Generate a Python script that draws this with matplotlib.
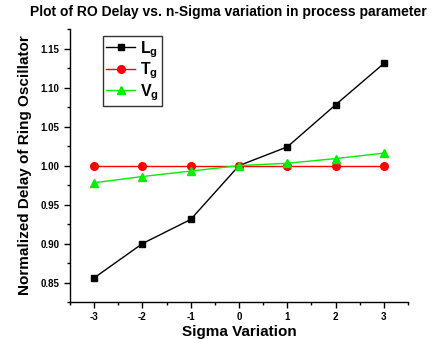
import matplotlib
matplotlib.use("Agg")
import matplotlib.pyplot as plt
from matplotlib.ticker import MultipleLocator

plt.rcParams['font.family'] = ['Liberation Sans', 'DejaVu Sans']
plt.rcParams['mathtext.fontset'] = 'custom'
plt.rcParams['mathtext.rm'] = 'Liberation Sans'
plt.rcParams['mathtext.bf'] = 'Liberation Sans:bold'
plt.rcParams['axes.unicode_minus'] = False

# data
sigma = [-3, -2, -1, 0, 1, 2, 3]
lg = [0.856, 0.900, 0.931, 1.000, 1.024, 1.078, 1.131]
tg = [1.000, 1.000, 1.000, 1.000, 1.000, 1.000, 1.000]
vg = [0.978, 0.986, 0.993, 1.000, 1.003, 1.009, 1.016]

fig = plt.figure(figsize=(4.35, 3.39), dpi=100)
ax = fig.add_axes([0.161, 0.109, 0.777, 0.805])

ax.plot(sigma, lg, color='black', lw=1, marker='s', ms=5, label=r'$\mathbf{L_g}$')
ax.plot(sigma, tg, color='red', lw=1, marker='o', ms=5.5, label=r'$\mathbf{T_g}$')
ax.plot(sigma, vg, color='#00ee00', lw=1, marker='^', ms=6, label=r'$\mathbf{V_g}$')

ax.set_xlim(-3.5, 3.5)
ax.set_ylim(0.825, 1.175)
ax.xaxis.set_major_locator(MultipleLocator(1))
ax.xaxis.set_minor_locator(MultipleLocator(0.5))
ax.yaxis.set_major_locator(MultipleLocator(0.05))
ax.yaxis.set_minor_locator(MultipleLocator(0.025))
ax.yaxis.set_major_formatter(matplotlib.ticker.FormatStrFormatter('%.2f'))

for s in ['top', 'right']:
    ax.spines[s].set_visible(False)
for s in ['left', 'bottom']:
    ax.spines[s].set_linewidth(1.0)

ax.tick_params(which='major', direction='out', length=4, width=1, labelsize=7)
ax.tick_params(which='minor', direction='out', length=2.5, width=1)
for lab in ax.get_xticklabels() + ax.get_yticklabels():
    lab.set_fontweight('bold')

ax.set_xlabel('Sigma Variation', fontsize=11, fontweight='bold', labelpad=2)
ax.set_ylabel('Normalized Delay of Ring Oscillator', fontsize=11, fontweight='bold', labelpad=6)
fig.suptitle('Plot of RO Delay vs. n-Sigma variation in process parameter',
             fontsize=10, fontweight='bold', x=0.525, y=0.985)

leg = ax.legend(loc='upper left', bbox_to_anchor=(0.098, 0.975), fontsize=11.5,
                frameon=True, fancybox=False, edgecolor='black', handlelength=1.8,
                borderpad=0.2, labelspacing=0.05, handletextpad=0.3, borderaxespad=0)
leg.get_frame().set_linewidth(1.0)

fig.savefig('out.png', dpi=100)
